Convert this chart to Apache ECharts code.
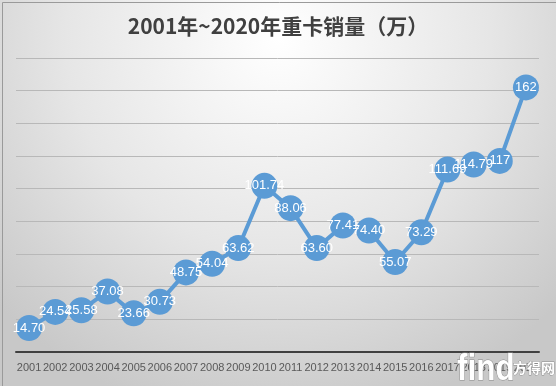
<!DOCTYPE html>
<html><head><meta charset="utf-8">
<script src="https://cdn.jsdelivr.net/npm/echarts@6/dist/echarts.min.js"></script>
<style>html,body{margin:0;padding:0;background:#fff}#c{width:556px;height:386px}</style>
</head><body><div id="c"></div>
<script>
const titleText = '2001年~2020年重卡销量（万）';
const years = ['2001','2002','2003','2004','2005','2006','2007','2008','2009','2010','2011','2012','2013','2014','2015','2016','2017','2018','2019','2020'];
const sales = [14.70,24.54,25.58,37.08,23.66,30.73,48.75,54.04,63.62,101.74,88.06,63.60,77.41,74.40,55.07,73.29,111.69,114.79,117,162];
const labels = ['14.70','24.54','25.58','37.08','23.66','30.73','48.75','54.04','63.62','101.74','88.06','63.60','77.41','74.40','55.07','73.29','111.69','114.79','117','162'];

const chart = echarts.init(document.getElementById('c'));
chart.setOption({
  animation: false,
  backgroundColor: {
    type: 'radial', x: 0.5, y: 0.1, r: 1.0,
    colorStops: [{offset: 0, color: '#ffffff'}, {offset: 0.55, color: '#e6e6e6'}, {offset: 1, color: '#c8c8c8'}]
  },
  title: {
    text: titleText, left: 'center', top: 11,
    textStyle: {fontFamily: 'Noto Sans CJK SC', fontSize: 21, fontWeight: 'bold', color: '#404040'}
  },
  grid: {left: 16, right: 17, top: 58, bottom: 34},
  xAxis: {
    type: 'category', data: years, boundaryGap: true,
    axisLine: {lineStyle: {color: '#404040', width: 2}},
    axisTick: {show: false},
    axisLabel: {interval: 0, color: '#595959', fontSize: 11, fontFamily: 'Liberation Sans', margin: 10}
  },
  yAxis: {
    type: 'value', min: 0, max: 180, interval: 20,
    axisLine: {show: false}, axisTick: {show: false}, axisLabel: {show: false},
    splitLine: {lineStyle: {color: '#b8b8b8', width: 1}}
  },
  graphic: [
    {type: 'rect', left: 0, top: 0, shape: {width: 555, height: 385}, style: {fill: 'none', stroke: '#9a9a9a', lineWidth: 1}},
    {type: 'text', x: 457, y: 351, scaleX: 0.85, z: 100, style: {text: 'find', fill: '#ffffff', font: 'bold 37px "Liberation Sans"', stroke: '#8a8a8a', lineWidth: 1}},
    {type: 'text', x: 513, y: 361, z: 100, style: {text: '方得网', fill: '#ffffff', font: 'bold 14px "Noto Sans CJK SC"', stroke: '#8a8a8a', lineWidth: 0.8}}
  ],
  series: [{
    type: 'line', data: sales,
    symbol: 'circle', symbolSize: 26,
    lineStyle: {color: '#5b9bd5', width: 4},
    itemStyle: {color: '#5b9bd5'},
    label: {
      show: true, position: 'inside', color: '#ffffff', fontSize: 13, fontFamily: 'Liberation Sans',
      formatter: p => labels[p.dataIndex]
    }
  }]
});
</script></body></html>
